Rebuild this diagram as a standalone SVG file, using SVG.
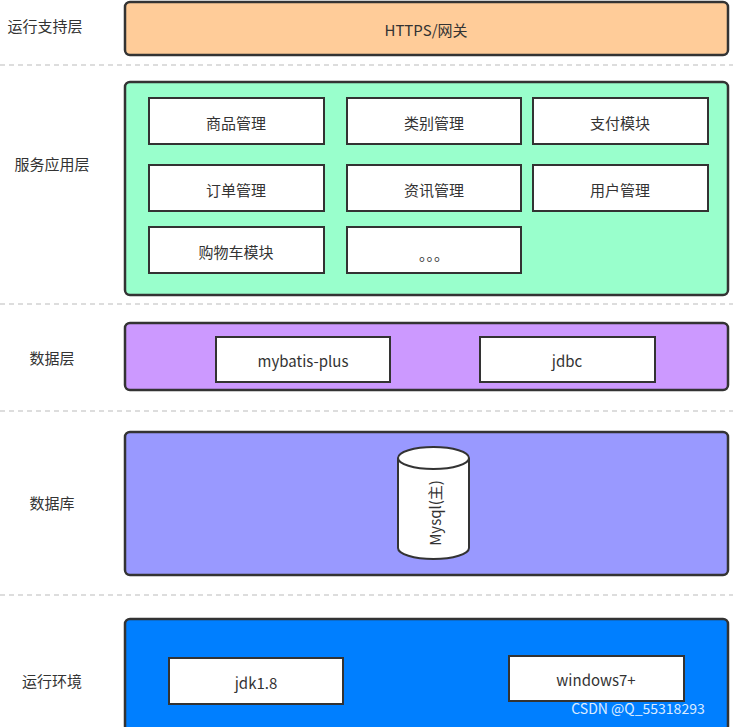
<svg xmlns="http://www.w3.org/2000/svg" width="733" height="727" viewBox="0 0 733 727">
<style>
text{font-family:"Microsoft YaHei","Noto Sans CJK SC","Liberation Sans",sans-serif;font-size:15px;fill:#333;dominant-baseline:central;text-anchor:middle}
.layer{stroke:#333;stroke-width:2.5}
.box{fill:#fff;stroke:#333;stroke-width:2}
.dash{stroke:#bbb;stroke-width:1.2;stroke-dasharray:5,4}
</style>
<rect width="733" height="727" fill="#fff"/>
<g id="separators">
<line class="dash" x1="0" y1="65" x2="733" y2="65"/>
<line class="dash" x1="0" y1="304" x2="733" y2="304"/>
<line class="dash" x1="0" y1="411" x2="733" y2="411"/>
<line class="dash" x1="0" y1="595" x2="733" y2="595"/>
</g>
<g id="labels">
<text x="45" y="25">运行支持层</text>
<text x="52" y="163">服务应用层</text>
<text x="52" y="357">数据层</text>
<text x="52" y="502">数据库</text>
<text x="52" y="680">运行环境</text>
</g>
<g id="runtime-support">
<rect class="layer" x="125" y="2" width="603" height="53" rx="5" fill="#FFCC99"/>
<text x="426" y="29">HTTPS/网关</text>
</g>
<g id="service">
<rect class="layer" x="125" y="82" width="603" height="213" rx="5" fill="#99FFCC"/>
<g id="n1"><rect class="box" x="149" y="98" width="175" height="46"/><text x="236" y="122">商品管理</text></g>
<g id="n2"><rect class="box" x="347" y="98" width="174" height="46"/><text x="434" y="122">类别管理</text></g>
<g id="n3"><rect class="box" x="533" y="98" width="175" height="46"/><text x="620" y="122">支付模块</text></g>
<g id="n4"><rect class="box" x="149" y="165" width="175" height="46"/><text x="236" y="189">订单管理</text></g>
<g id="n5"><rect class="box" x="347" y="165" width="174" height="46"/><text x="434" y="189">资讯管理</text></g>
<g id="n6"><rect class="box" x="533" y="165" width="175" height="46"/><text x="620" y="189">用户管理</text></g>
<g id="n7"><rect class="box" x="149" y="227" width="175" height="46"/><text x="236" y="251">购物车模块</text></g>
<g id="n8"><rect class="box" x="347" y="227" width="174" height="46"/><text x="434" y="253">。。。</text></g>
</g>
<g id="data-layer">
<rect class="layer" x="125" y="323" width="603" height="67" rx="5" fill="#CC99FF"/>
<g id="n9"><rect class="box" x="216" y="337" width="174" height="45"/><text x="303" y="360">mybatis-plus</text></g>
<g id="n10"><rect class="box" x="480" y="337" width="175" height="45"/><text x="567" y="360">jdbc</text></g>
</g>
<g id="database">
<rect class="layer" x="125" y="432" width="603" height="143" rx="5" fill="#9999FF"/>
<g id="mysql">
<path d="M398,458 L398,548 A35.5,11 0 0 0 469,548 L469,458" fill="#fff" stroke="#333" stroke-width="2"/>
<ellipse cx="433.5" cy="458" rx="35.5" ry="11" fill="#fff" stroke="#333" stroke-width="2"/>
<text x="434" y="513" transform="rotate(-90 434 513)">Mysql(主)</text>
</g>
</g>
<g id="environment">
<rect class="layer" x="125" y="619" width="603" height="112" rx="5" fill="#007FFF"/>
<g id="n11"><rect class="box" x="169" y="658" width="174" height="46"/><text x="256" y="682">jdk1.8</text></g>
<g id="n12"><rect class="box" x="509" y="656" width="175" height="45"/><text x="596" y="679">windows7+</text></g>
</g>
<text x="638" y="708" style="fill:#fff;font-size:14px;opacity:0.85">CSDN @Q_55318293</text>
<g id="connectors"/>
</svg>
